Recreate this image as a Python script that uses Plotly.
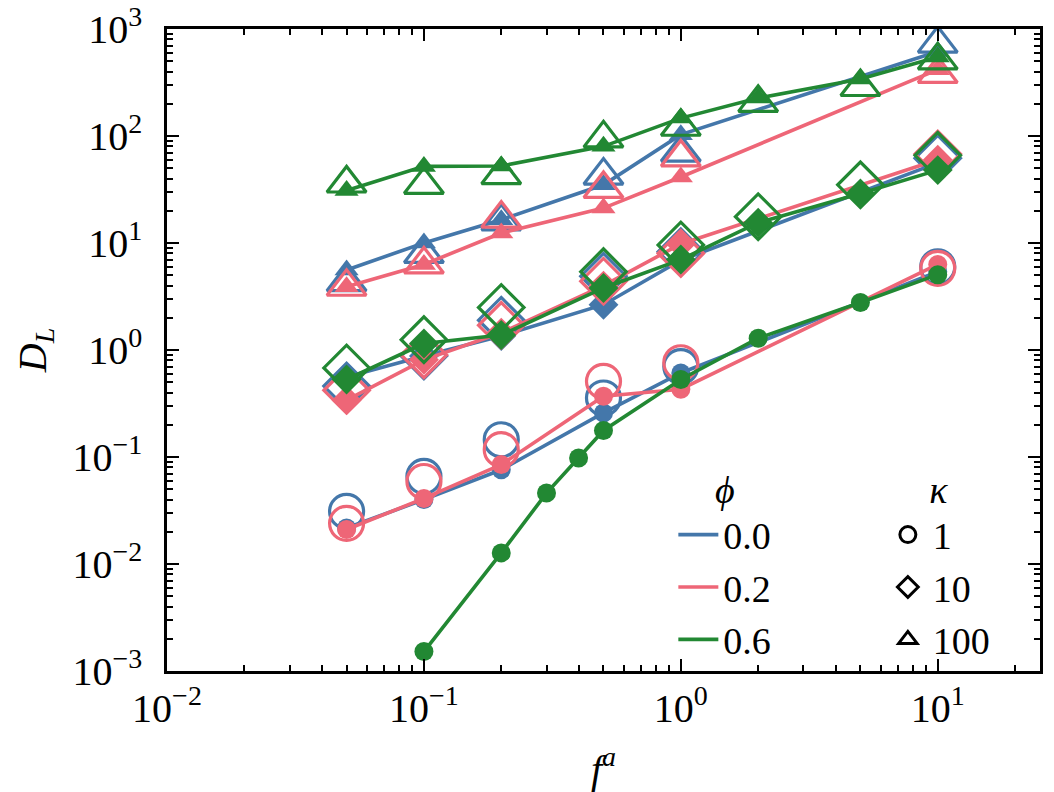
import plotly.graph_objects as go

# ---------------------------------------------------------------
# data  x = f^a, y = D_L
f_a = [0.05, 0.1, 0.2, 0.5, 1, 10]
f_a_full = [0.05, 0.1, 0.2, 0.5, 1, 2, 5, 10]
f_a_k1_green = [0.1, 0.2, 0.3, 0.4, 0.5, 1, 2, 5, 10]

# kappa = 1 (circles)
k1_phi00_fill = [0.0217, 0.040, 0.076, 0.258, 0.61, 5.4]
k1_phi00_open = [0.031, 0.066, 0.145, 0.356, 0.70, 6.0]
k1_phi02_fill = [0.021, 0.041, 0.085, 0.37, 0.43, 6.3]
k1_phi02_open = [0.024, 0.059, 0.117, 0.51, 0.76, 5.8]
k1_phi06_fill = [0.00152, 0.0127, 0.046, 0.098, 0.177, 0.53, 1.29, 2.78, 5.06]

# kappa = 10 (diamonds)
k10_phi00_fill = [0.56, 0.88, 1.35, 2.65, 6.9, 56]
k10_phi00_open = [0.46, 0.88, 1.9, 4.9, 8.3, 62]
k10_phi02_fill = [0.34, 0.81, 1.45, 4.0, 9.8, 60]
k10_phi02_open = [0.42, 0.90, 1.7, 4.4, 8.0, 68]
k10_phi06_fill = [0.53, 1.15, 1.38, 3.8, 7.0, 15.5, 29, 48]
k10_phi06_open = [0.68, 1.25, 2.5, 5.4, 9.6, 17.6, 35, 66]

# kappa = 100 (triangles)
k100_phi00_fill = [5.6, 10, 16.5, 35, 103, 616]
k100_phi00_open = [4.3, 7.9, 15.9, 42.7, 70, 730]
k100_phi02_fill = [3.9, 6.3, 12.4, 21.2, 41.4, 417]
k100_phi02_open = [3.9, 6.3, 16.9, 32, 63, 380]
k100_phi06_fill = [31, 52, 52.5, 80, 147, 226, 341, 547]
k100_phi06_open = [36, 35, 43, 95, 122, 204, 287, 509]

phi_labels = ["0.0", "0.2", "0.6"]
kappa_labels = ["1", "10", "100"]
x_tickvals = [0.01, 0.1, 1, 10]
x_ticktext = ["10<sup>−2</sup>", "10<sup>−1</sup>", "10<sup>0</sup>", "10<sup>1</sup>"]
y_tickvals = [1e-3, 1e-2, 1e-1, 1, 10, 100, 1000]
y_ticktext = ["10<sup>−3</sup>", "10<sup>−2</sup>", "10<sup>−1</sup>", "10<sup>0</sup>",
              "10<sup>1</sup>", "10<sup>2</sup>", "10<sup>3</sup>"]

colors = ["#4477AA", "#EE6677", "#228833"]
symbols = ["circle", "diamond", "triangle-up"]
fill_size = [19, 23, 21]
open_size = [34, 35, 34]

series = [
    # (kappa idx, phi idx, x, filled, open)
    (0, 0, f_a, k1_phi00_fill, k1_phi00_open),
    (0, 1, f_a, k1_phi02_fill, k1_phi02_open),
    (0, 2, f_a_k1_green, k1_phi06_fill, None),
    (1, 0, f_a, k10_phi00_fill, k10_phi00_open),
    (1, 1, f_a, k10_phi02_fill, k10_phi02_open),
    (1, 2, f_a_full, k10_phi06_fill, k10_phi06_open),
    (2, 0, f_a, k100_phi00_fill, k100_phi00_open),
    (2, 1, f_a, k100_phi02_fill, k100_phi02_open),
    (2, 2, f_a_full, k100_phi06_fill, k100_phi06_open),
]

FONT = "Liberation Serif"

fig = go.Figure()
for ki, pi, xs, yf, yo in series:
    c = colors[pi]
    if yo is not None:
        fig.add_trace(go.Scatter(x=xs, y=yo, mode="markers", showlegend=False,
                                 marker=dict(symbol=symbols[ki] + "-open", size=open_size[ki],
                                             color=c, line=dict(width=3.2, color=c))))
    fig.add_trace(go.Scatter(x=xs, y=yf, mode="lines+markers", showlegend=False,
                             line=dict(color=c, width=3.6),
                             marker=dict(symbol=symbols[ki], size=fill_size[ki], color=c)))

# legend entries
for pi, lab in enumerate(phi_labels):
    fig.add_trace(go.Scatter(x=[None], y=[None], mode="lines", name=lab, legend="legend",
                             line=dict(color=colors[pi], width=3.6)))
for ki, lab in enumerate(kappa_labels):
    fig.add_trace(go.Scatter(x=[None], y=[None], mode="markers", name=lab, legend="legend2",
                             marker=dict(symbol=symbols[ki] + "-open", size=16, color="black",
                                         line=dict(width=3, color="black"))))

axis_common = dict(
    type="log", tickmode="array", showgrid=False, zeroline=False, automargin=False,
    ticks="inside", ticklen=12, tickwidth=2, tickcolor="black",
    showline=True, linewidth=2.5, linecolor="black", mirror="allticks",
    minor=dict(ticks="inside", ticklen=6, tickwidth=1.5, tickcolor="black", dtick="D1", showgrid=False),
    tickfont=dict(family=FONT, size=40, color="black"),
)

fig.update_xaxes(**axis_common, range=[-2, 1.398], tickvals=x_tickvals, ticktext=x_ticktext,
                 ticklabelstandoff=0,
                 title=dict(text="<i>f</i><sup><i>a</i></sup>", font=dict(family=FONT, size=40), standoff=34))
fig.update_yaxes(**axis_common, range=[-3, 3], tickvals=y_tickvals, ticktext=y_ticktext,
                 ticklabelstandoff=14,
                 title=dict(text="<i>D</i><sub><i>L</i></sub>", font=dict(family=FONT, size=40), standoff=14))

leg_common = dict(bgcolor="rgba(0,0,0,0)", font=dict(family=FONT, size=38, color="black"),
                  yanchor="bottom", y=0.0, tracegroupgap=0, itemwidth=40)
fig.update_layout(
    width=1054, height=792,
    margin=dict(l=167, r=14, t=29, b=121, autoexpand=False),
    plot_bgcolor="white", paper_bgcolor="white",
    font=dict(family=FONT, color="black"),
    legend=dict(**leg_common, x=0.58, xanchor="left",
                title=dict(text="<i>ϕ</i>", side="top center", font=dict(family=FONT, size=38))),
    legend2=dict(**leg_common, x=0.82, xanchor="left",
                 title=dict(text="<i>κ</i>", side="top center", font=dict(family=FONT, size=38))),
)

# page has a default 8px body margin, drop it so the figure sits at 0,0
fig.write_html("out.html", config={"displayModeBar": False},
               post_script="document.body.style.margin='0';")
